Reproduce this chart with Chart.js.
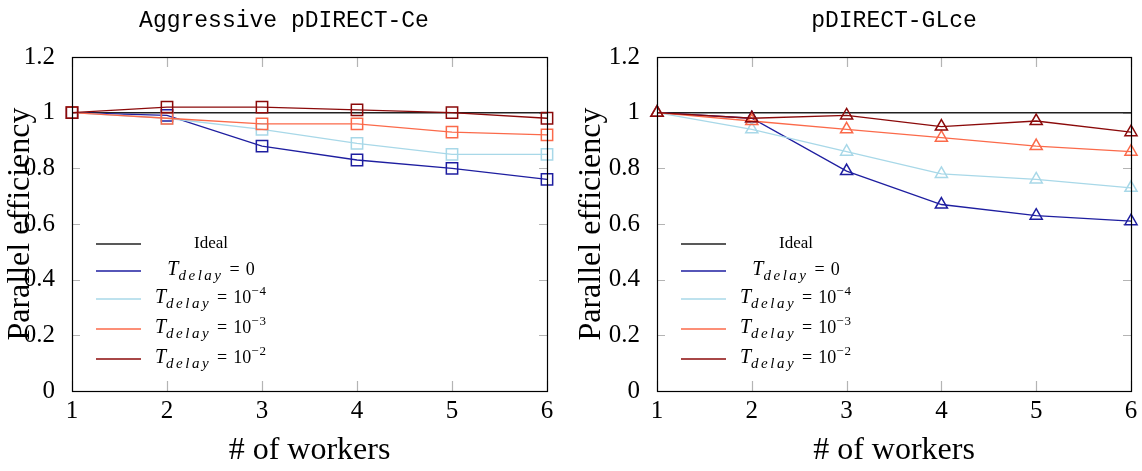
<!DOCTYPE html>
<html>
<head>
<meta charset="utf-8">
<script src="https://cdn.jsdelivr.net/npm/chart.js@4.4.1/dist/chart.umd.min.js"></script>
<style>
  body { margin: 0; background: #fff; }
  .wrap { position: absolute; top: 0; width: 571px; height: 471px; }
</style>
</head>
<body>
<div class="wrap" style="left:0"><canvas id="leftChart"></canvas></div>
<div class="wrap" style="left:571px"><canvas id="rightChart"></canvas></div>
<script>
// workers on the x axis
const workers = ['1', '2', '3', '4', '5', '6'];
const ideal = [1, 1, 1, 1, 1, 1];

// Aggressive pDIRECT-Ce
const ceDelay0 = [1, 0.99, 0.88, 0.83, 0.80, 0.76];
const ceDelay4 = [1, 0.98, 0.94, 0.89, 0.85, 0.85];
const ceDelay3 = [1, 0.98, 0.96, 0.96, 0.93, 0.92];
const ceDelay2 = [1, 1.02, 1.02, 1.01, 1.00, 0.98];

// pDIRECT-GLce
const glDelay0 = [1, 0.98, 0.79, 0.67, 0.63, 0.61];
const glDelay4 = [1, 0.94, 0.86, 0.78, 0.76, 0.73];
const glDelay3 = [1, 0.97, 0.94, 0.91, 0.88, 0.86];
const glDelay2 = [1, 0.98, 0.99, 0.95, 0.97, 0.93];

// T_delay values: [base, exponent]
const delayLabels = [['0', ''], ['10', '\u22124'], ['10', '\u22123'], ['10', '\u22122']];
const yTicks = [0, 0.2, 0.4, 0.6, 0.8, 1, 1.2];

const seriesColors = ['#1e1ea0', '#a8d8e8', '#fb6a4a', '#8b0a0a'];
const SERIF = '"Liberation Serif", "DejaVu Serif", serif';

function drawMath(ctx, cx, y, base, sup) {
  const parts = [
    { t: 'T', font: 'italic 20px ' + SERIF, dy: 0, ls: 0 },
    { t: 'delay', font: 'italic 15px ' + SERIF, dy: 5, ls: 2.5 },
    { t: '=', font: '18px ' + SERIF, dy: 0, ls: 0, gap: 6 },
    { t: base, font: '18px ' + SERIF, dy: 0, ls: 0, gap: 6 },
  ];
  if (sup) parts.push({ t: sup, font: '13px ' + SERIF, dy: -8, ls: 1 });
  let total = 0;
  parts.forEach(p => {
    ctx.font = p.font;
    ctx.letterSpacing = p.ls + 'px';
    p.w = ctx.measureText(p.t).width;
    total += p.w + (p.gap || 0);
  });
  let x = cx - total / 2;
  parts.forEach(p => {
    x += p.gap || 0;
    ctx.font = p.font;
    ctx.letterSpacing = p.ls + 'px';
    ctx.fillText(p.t, x, y + p.dy);
    x += p.w;
  });
  ctx.letterSpacing = '0px';
}

const framePlugin = {
  id: 'frame',
  beforeDatasetsDraw(chart) {
    const { ctx, chartArea: a, scales } = chart;
    ctx.save();
    ctx.strokeStyle = '#b4b4b4';
    ctx.lineWidth = 1.2;
    ctx.beginPath();
    scales.y.ticks.forEach(t => {
      const y = Math.round(scales.y.getPixelForValue(t.value)) + 0.5;
      ctx.moveTo(a.left, y); ctx.lineTo(a.left + 8, y);
      ctx.moveTo(a.right, y); ctx.lineTo(a.right - 8, y);
    });
    scales.x.ticks.forEach((t, i) => {
      const x = Math.round(scales.x.getPixelForTick(i)) + 0.5;
      ctx.moveTo(x, a.top); ctx.lineTo(x, a.top + 10);
      ctx.moveTo(x, a.bottom); ctx.lineTo(x, a.bottom - 10);
    });
    ctx.stroke();
    ctx.restore();
  },
  afterDatasetsDraw(chart, args, opts) {
    const { ctx, chartArea: a } = chart;
    ctx.save();
    ctx.strokeStyle = '#000';
    ctx.lineWidth = 1.2;
    ctx.strokeRect(Math.round(a.left) + 0.5, Math.round(a.top) + 0.5,
      Math.round(a.right - a.left), Math.round(a.bottom - a.top));

    // title, centred on the whole figure including the axis labels
    ctx.fillStyle = '#000';
    ctx.font = '23px "Liberation Mono", "DejaVu Sans Mono", monospace';
    ctx.textAlign = 'center';
    ctx.textBaseline = 'alphabetic';
    ctx.fillText(opts.title, a.left + opts.titleShift, 27);

    // legend in the lower left corner
    const rows = [187, 214, 242, 272, 302];
    const x0 = a.left + 24, x1 = a.left + 69, cx = a.left + 139;
    chart.data.datasets.forEach((ds, i) => {
      const y = a.top + rows[i];
      ctx.strokeStyle = ds.borderColor;
      ctx.lineWidth = 1.3;
      ctx.beginPath();
      ctx.moveTo(x0, y); ctx.lineTo(x1, y);
      ctx.stroke();
      ctx.fillStyle = '#000';
      ctx.textAlign = 'left';
      if (i === 0) {
        ctx.font = '17px ' + SERIF;
        const w = ctx.measureText(ds.label).width;
        ctx.fillText(ds.label, cx - w / 2, y + 4);
      } else {
        const [base, sup] = delayLabels[i - 1];
        drawMath(ctx, cx, y + 4, base, sup);
      }
    });
    ctx.restore();
  }
};

function makeChart(id, title, titleShift, series, pointStyle, pointRadius, yWidth, padRight) {
  const datasets = [{
    label: 'Ideal', data: ideal, borderColor: '#222', borderWidth: 1.5,
    pointRadius: 0, order: 5, clip: false
  }];
  series.forEach((s, i) => {
    datasets.push({
      label: 'T_delay = ' + delayLabels[i].join('^'),
      data: s,
      borderColor: seriesColors[i],
      pointBorderColor: seriesColors[i],
      pointBackgroundColor: 'rgba(0,0,0,0)',
      pointStyle: pointStyle,
      pointRadius: pointRadius,
      pointBorderWidth: 1.5,
      borderWidth: 1.3,
      order: 4 - i,
      clip: false
    });
  });
  return new Chart(document.getElementById(id), {
    type: 'line',
    data: { labels: workers, datasets },
    options: {
      responsive: true,
      maintainAspectRatio: false,
      animation: false,
      events: [],
      layout: { padding: { top: 57, right: padRight, left: 0, bottom: 0 } },
      elements: { line: { tension: 0 } },
      plugins: {
        legend: { display: false },
        tooltip: { enabled: false },
        frame: { title, titleShift }
      },
      scales: {
        x: {
          type: 'category',
          offset: false,
          grid: { display: false },
          border: { display: false },
          ticks: { font: { family: SERIF, size: 25 }, color: '#000', padding: -3, maxRotation: 0 },
          title: { display: true, text: '# of workers', color: '#000',
                   font: { family: SERIF, size: 32 }, padding: { top: 0, bottom: 1 } },
          afterFit: s => { s.height = 80; }
        },
        y: {
          min: 0, max: 1.2,
          afterBuildTicks: s => { s.ticks = yTicks.map(v => ({ value: v })); },
          ticks: { font: { family: SERIF, size: 25 }, color: '#000', padding: 9,
                   callback: v => String(+Number(v).toFixed(1)) },
          grid: { display: false },
          border: { display: false },
          title: { display: true, text: 'Parallel efficiency', color: '#000',
                   font: { family: SERIF, size: 32 }, padding: { top: 1, bottom: 0 } },
          afterFit: s => { s.width = yWidth; }
        }
      }
    },
    plugins: [framePlugin]
  });
}

makeChart('leftChart', 'Aggressive pDIRECT-Ce', 212, [ceDelay0, ceDelay4, ceDelay3, ceDelay2], 'rect', 8, 72, 24);
makeChart('rightChart', 'pDIRECT-GLce', 237, [glDelay0, glDelay4, glDelay3, glDelay2], 'triangle', 7, 86, 11);
</script>
</body>
</html>
